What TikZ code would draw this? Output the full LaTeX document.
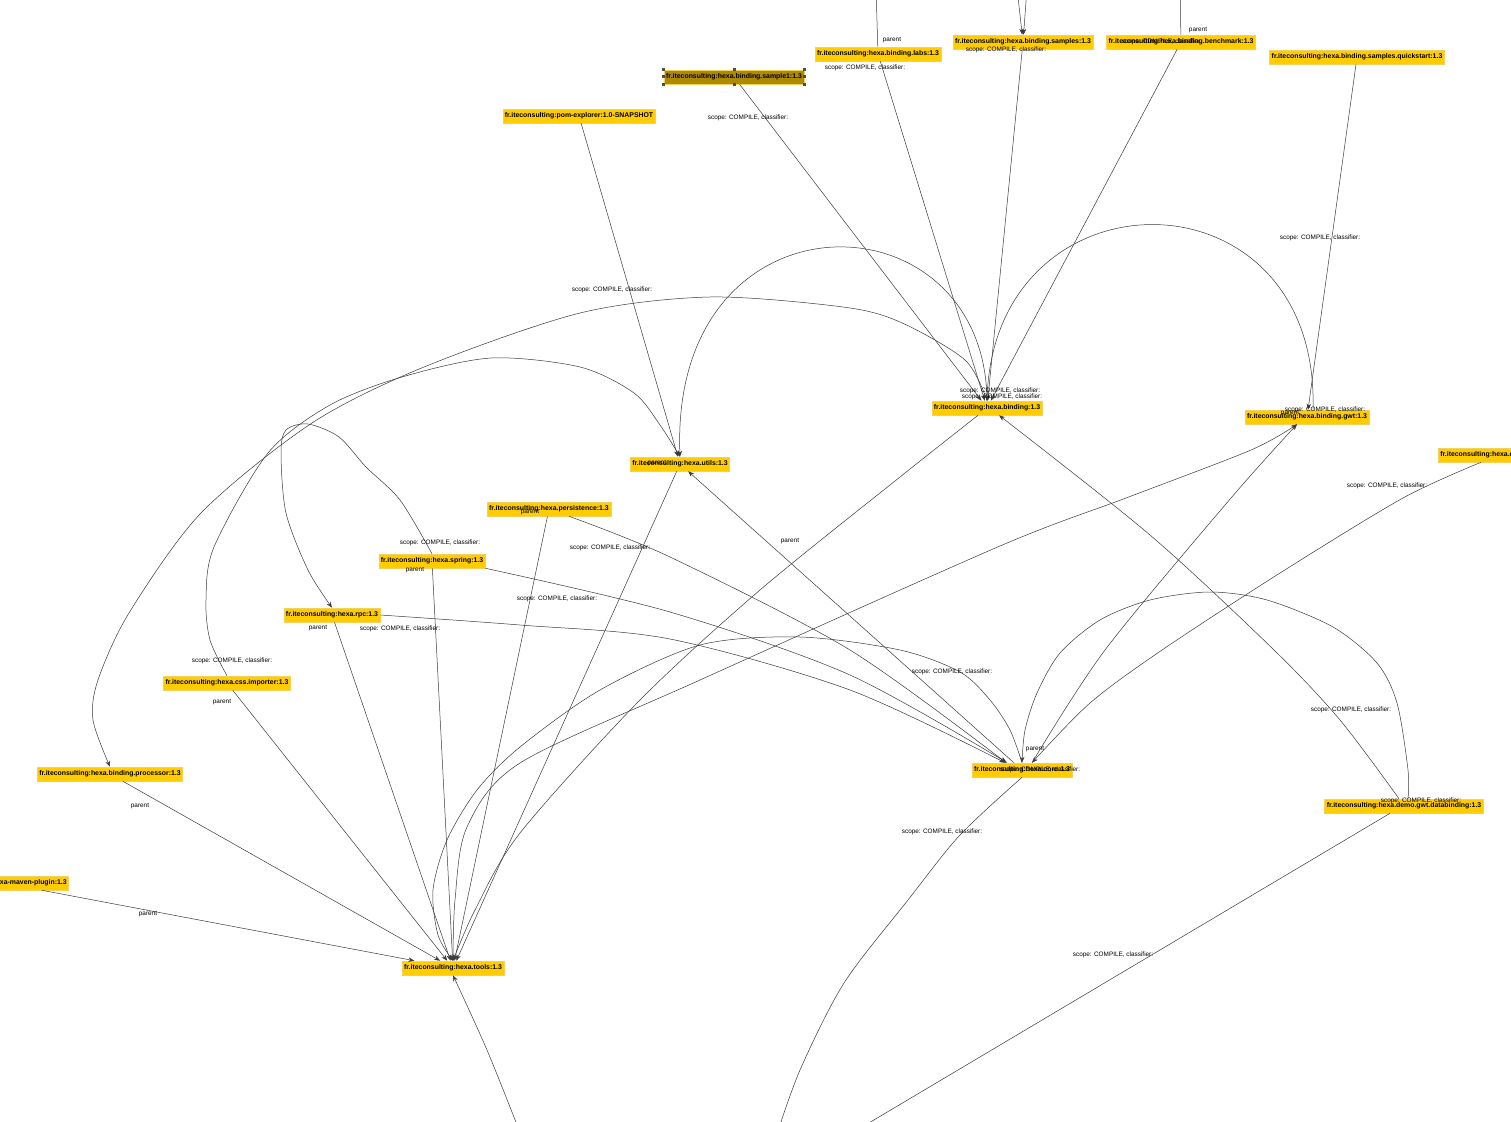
\documentclass[tikz,border=0pt]{standalone}
\usepackage{fontspec}
\setmainfont{Liberation Sans}
\usetikzlibrary{arrows.meta}
\definecolor{artifact}{HTML}{FFCC00}
\definecolor{artifactline}{HTML}{F2D25C}
\definecolor{selected}{HTML}{AE8A00}
\definecolor{wire}{HTML}{3A3A3A}
\newcommand{\scopetxt}{scope: COMPILE, classifier:}

\begin{document}
\begin{tikzpicture}[x=1pt, y=-1pt,
    artifact/.style={draw=artifactline, fill=artifact, line width=0.6pt, inner xsep=2pt, inner ysep=0pt, minimum height=14pt, font=\fontsize{6.9}{8}\selectfont\bfseries},
    picked/.style={artifact, fill=selected},
    grip/.style={fill=black!70, inner sep=0pt, minimum size=3pt},
    dep/.style={draw=wire, line width=0.5pt, -{Stealth[length=6pt,width=4.5pt]}},
    lbl/.style={inner sep=0pt, font=\fontsize{6.4}{7}\selectfont}]
        \useasboundingbox (0,0) rectangle (1511,1121);
        \clip (0,0) rectangle (1511,1121);
        \fill[white] (0,0) rectangle (1511,1121);

        \node[picked] (sample1) at (734,77) {fr.iteconsulting:hexa.binding.sample1:1.3};
        \node[artifact] (pom) at (579,116) {fr.iteconsulting:pom-explorer:1.0-SNAPSHOT};
        \node[artifact] (labs) at (878,54) {fr.iteconsulting:hexa.binding.labs:1.3};
        \node[artifact] (samples) at (1023,42) {fr.iteconsulting:hexa.binding.samples:1.3};
        \node[artifact] (bench) at (1181,42) {fr.iteconsulting:hexa.binding.benchmark:1.3};
        \node[artifact] (quick) at (1357,57) {fr.iteconsulting:hexa.binding.samples.quickstart:1.3};
        \node[artifact] (bind) at (987,408) {fr.iteconsulting:hexa.binding:1.3};
        \node[artifact] (gwt) at (1307,417) {fr.iteconsulting:hexa.binding.gwt:1.3};
        \node[artifact, anchor=west] (demo) at (1438,455) {fr.iteconsulting:hexa.demo.gwt:1.3};
        \node[artifact] (utils) at (680,464) {fr.iteconsulting:hexa.utils:1.3};
        \node[artifact] (persist) at (549,509) {fr.iteconsulting:hexa.persistence:1.3};
        \node[artifact] (spring) at (432,561) {fr.iteconsulting:hexa.spring:1.3};
        \node[artifact] (rpc) at (332,615) {fr.iteconsulting:hexa.rpc:1.3};
        \node[artifact] (css) at (227,683) {fr.iteconsulting:hexa.css.importer:1.3};
        \node[artifact] (proc) at (110,774) {fr.iteconsulting:hexa.binding.processor:1.3};
        \node[artifact, anchor=east] (maven) at (69,883) {fr.iteconsulting:hexa-maven-plugin:1.3};
        \node[artifact] (tools) at (453,968) {fr.iteconsulting:hexa.tools:1.3};
        \node[artifact] (core) at (1022,770) {fr.iteconsulting:hexa.core:1.3};
        \node[artifact] (databind) at (1404,806) {fr.iteconsulting:hexa.demo.gwt.databinding:1.3};

        \coordinate (labs-up) at (876,-12); \coordinate (bench-up) at (1180,-12); \coordinate (samples-up1) at (1017,-12); \coordinate (samples-up2) at (1027,-12);
        \coordinate (tools-below) at (521,1135); \coordinate (core-down) at (775,1140); \coordinate (databind-down) at (857,1130);

        \draw[dep] (sample1) -- (bind); \draw[dep] (labs) -- (bind); \draw[dep] (samples) -- (bind); \draw[dep] (bench) -- (bind);
        \draw[dep] (labs) -- (labs-up); \draw[dep] (bench) -- (bench-up); \draw[dep] (samples-up1) -- (samples); \draw[dep] (samples-up2) -- (samples);
        \draw[dep] (quick) -- (gwt); \draw[dep] (pom) -- (utils); \draw[dep] (core) -- (utils);
        \draw[dep] (utils) -- (tools); \draw[dep] (persist) -- (tools); \draw[dep] (spring) -- (tools); \draw[dep] (rpc) -- (tools); \draw[dep] (css) -- (tools); \draw[dep] (proc) -- (tools); \draw[dep] (maven) -- (tools);
        \draw[dep] ([xshift=-14pt]databind.south) -- (databind-down);
        \draw[dep] plot[smooth] coordinates {(tools-below) (487,1050) (tools.south)};
        \draw[dep] plot[smooth] coordinates {(core.south) (960,835) (908,900) (844,983) (800,1070) (core-down)};

        \draw[dep] (bind.north) .. controls (985,190) and (670,185) .. (utils.north);
        \draw[dep] ([xshift=6pt]gwt.north) .. controls (1320,165) and (995,165) .. (bind.north);
        \draw[dep] plot[smooth] coordinates {(bind.north) (965,360) (900,322) (843,307) (710,297) (580,313) (424,367) (312,423) (201,513) (129,613) (98,680) (93,720) (proc.north)};
        \draw[dep] plot[smooth] coordinates {(css.north) (210,640) (206,600) (214,547) (268,453) (330,405) (402,377) (491,358) (580,367) (634,393) (660,425) (utils.north)};
        \draw[dep] plot[smooth] coordinates {(spring.north) (400,500) (366,467) (339,437) (308,424) (286,430) (281,453) (286,513) (308,570) (rpc.north)};

        \draw[dep] plot[smooth] coordinates {([xshift=-9pt]bind.south) (900,477) (760,590) (640,700) (520,833) (475,910) (tools.north)};
        \draw[dep] plot[smooth] coordinates {(core.north) (1010,730) (990,700) (960,672) (900,650) (800,637) (700,645) (600,690) (520,747) (477,790) (447,840) (433,890) (438,935) (tools.north)};
        \draw[dep] plot[smooth] coordinates {(tools.north) (455,900) (467,827) (520,763) (700,680) (1000,546) (1126,498) (1251,450) ([xshift=-10pt]gwt.south)};
        \draw[dep] plot[smooth] coordinates {([xshift=10pt]core.north) (1105,650) (1231,498) ([xshift=-10pt]gwt.south)};

        \draw[dep] plot[smooth] coordinates {([xshift=20pt]persist.south) (670,557) (850,650) ([xshift=-16pt]core.north)};
        \draw[dep] plot[smooth] coordinates {(spring.south east) (670,612) (850,675) ([xshift=-15pt]core.north)};
        \draw[dep] plot[smooth] coordinates {(rpc.east) (520,625) (670,639) (850,690) ([xshift=-17pt]core.north)};
        \draw[dep] plot[smooth] coordinates {([xshift=43pt]demo.south west) (1403,498) (1280,573) (1162,650) (1090,703) ([xshift=10pt]core.north)};
        \draw[dep] plot[smooth] coordinates {([xshift=-5pt]databind.north) (1340,720) (1274,650) (1150,535) ([xshift=12pt]bind.south)};
        \draw[dep] plot[smooth] coordinates {([xshift=4pt]databind.north) (1408,770) (1397,703) (1377,663) (1333,627) (1267,600) (1210,592) (1150,600) (1100,620) (1060,653) (1037,693) (1025,730) (core.north)};

        \foreach \x/\y [count=\i] in {748/118, 865/68, 1006/50, 1162/42, 1320/238, 612/290, 1000/391, 1002/397, 1325/410, 440/543, 610/548, 557/599, 400/629, 232/661, 952/672, 1351/710, 1387/486, 1040/770, 1421/801, 942/832, 1113/955}
            \node[lbl] (scope\i) at (\x,\y) {\scopetxt};
        \foreach \x/\y [count=\i] in {892/40, 1198/30, 1290/413, 530/512, 415/570, 318/628, 222/702, 140/806, 148/914, 657/463, 790/541, 1035/749}
            \node[lbl] (parent\i) at (\x,\y) {parent};
        \foreach \a [count=\i] in {north west,north,north east,west,east,south west,south,south east}
            \node[grip] (grip\i) at (sample1.\a) {};
\end{tikzpicture}
\end{document}
